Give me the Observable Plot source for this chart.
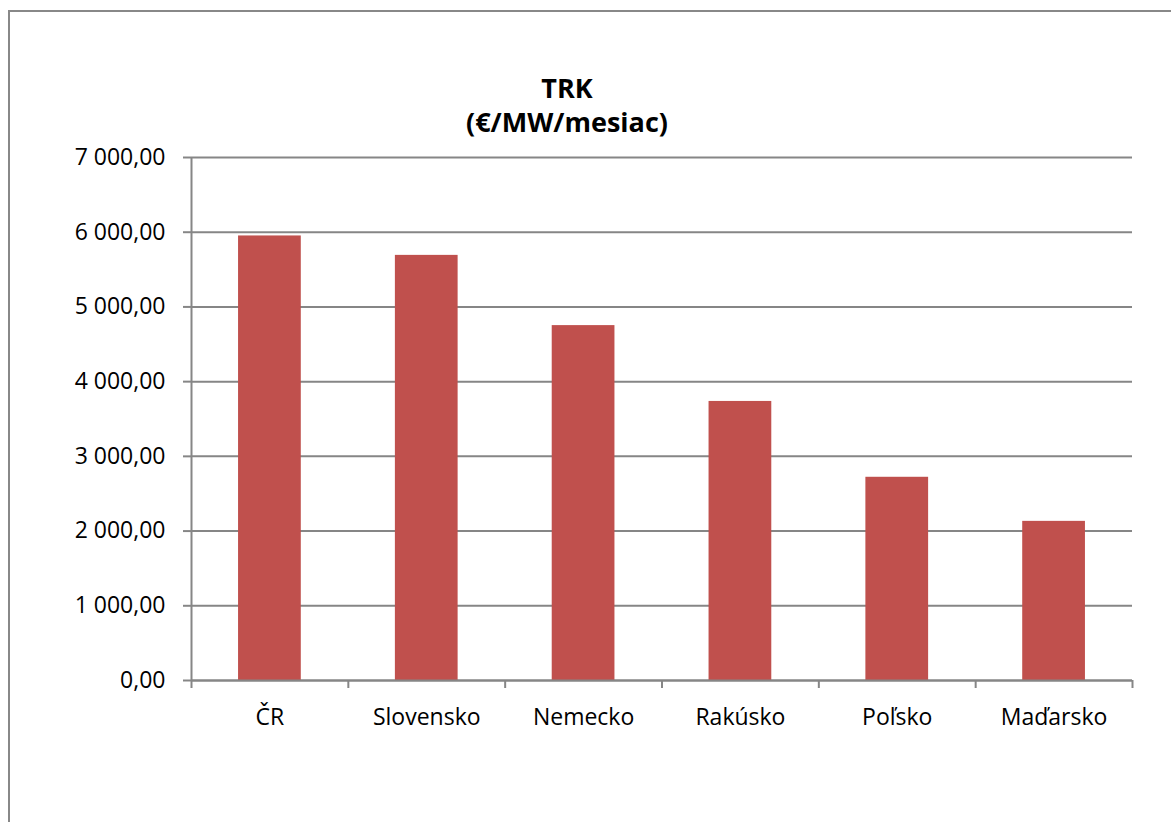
<!DOCTYPE html>
<html>
<head>
<meta charset="utf-8">
<script src="https://cdn.jsdelivr.net/npm/d3@7"></script>
<script src="https://cdn.jsdelivr.net/npm/@observablehq/plot@0.6"></script>
<style>
  html, body { margin: 0; padding: 0; background: #fff; width: 1171px; height: 822px; overflow: hidden; }
  #frame { position: absolute; left: 8px; top: 10px; width: 1200px; height: 900px; border: 2px solid #888; box-sizing: border-box; }
  #title { position: absolute; left: 0; width: 1134px; top: 71px; text-align: center; font-family: "Open Sans", sans-serif; font-weight: bold; font-size: 27px; line-height: 34px; color: #000; }
  #chart { position: absolute; left: 0; top: 0; }
  #chart svg { font-family: "Open Sans", sans-serif; }
</style>
</head>
<body>
<div id="frame"></div>
<div id="chart"></div>
<div id="title">TRK<br>(€/MW/mesiac)</div>
<script>
const countries = ["ČR", "Slovensko", "Nemecko", "Rakúsko", "Poľsko", "Maďarsko"];
const values = [5950, 5690, 4750, 3735, 2720, 2130];
const yTicks = [0, 1000, 2000, 3000, 4000, 5000, 6000, 7000];

const data = countries.map((c, i) => ({country: c, value: values[i], i}));
const boundaries = d3.range(countries.length + 1);
const fmt = d3.formatLocale({decimal: ",", thousands: "\u00a0", grouping: [3]}).format(",.2f");

const plot = Plot.plot({
  width: 1171,
  height: 822,
  marginLeft: 191,
  marginRight: 39,
  marginTop: 157,
  marginBottom: 142,
  style: {fontSize: "23px", color: "#000", background: "transparent", overflow: "visible"},
  x: {type: "linear", domain: [0, countries.length], axis: null},
  y: {domain: [0, 7000], axis: null},
  marks: [
    Plot.gridY(yTicks, {stroke: "#868686", strokeOpacity: 1, strokeWidth: 2}),
    Plot.rectY(data, {x1: d => d.i + 0.3, x2: d => d.i + 0.7, y: "value", fill: "#C0504D"}),
    Plot.ruleX([0], {stroke: "#868686", strokeWidth: 2}),
    Plot.ruleY([0], {stroke: "#868686", strokeWidth: 2}),
    Plot.axisY(yTicks, {label: null, tickSize: 8, tickPadding: 18, stroke: "#868686", strokeWidth: 2, tickFormat: fmt, fontSize: 23, fill: "#000"}),
    Plot.axisX(boundaries, {label: null, tickSize: 8, tickFormat: () => "", stroke: "#868686", strokeWidth: 2}),
    Plot.axisX(data.map(d => d.i + 0.5), {label: null, tickSize: 0, tickPadding: 28, tickFormat: (v) => countries[Math.floor(v)], fontSize: 23, fill: "#000"})
  ]
});
document.getElementById("chart").appendChild(plot);
</script>
</body>
</html>
